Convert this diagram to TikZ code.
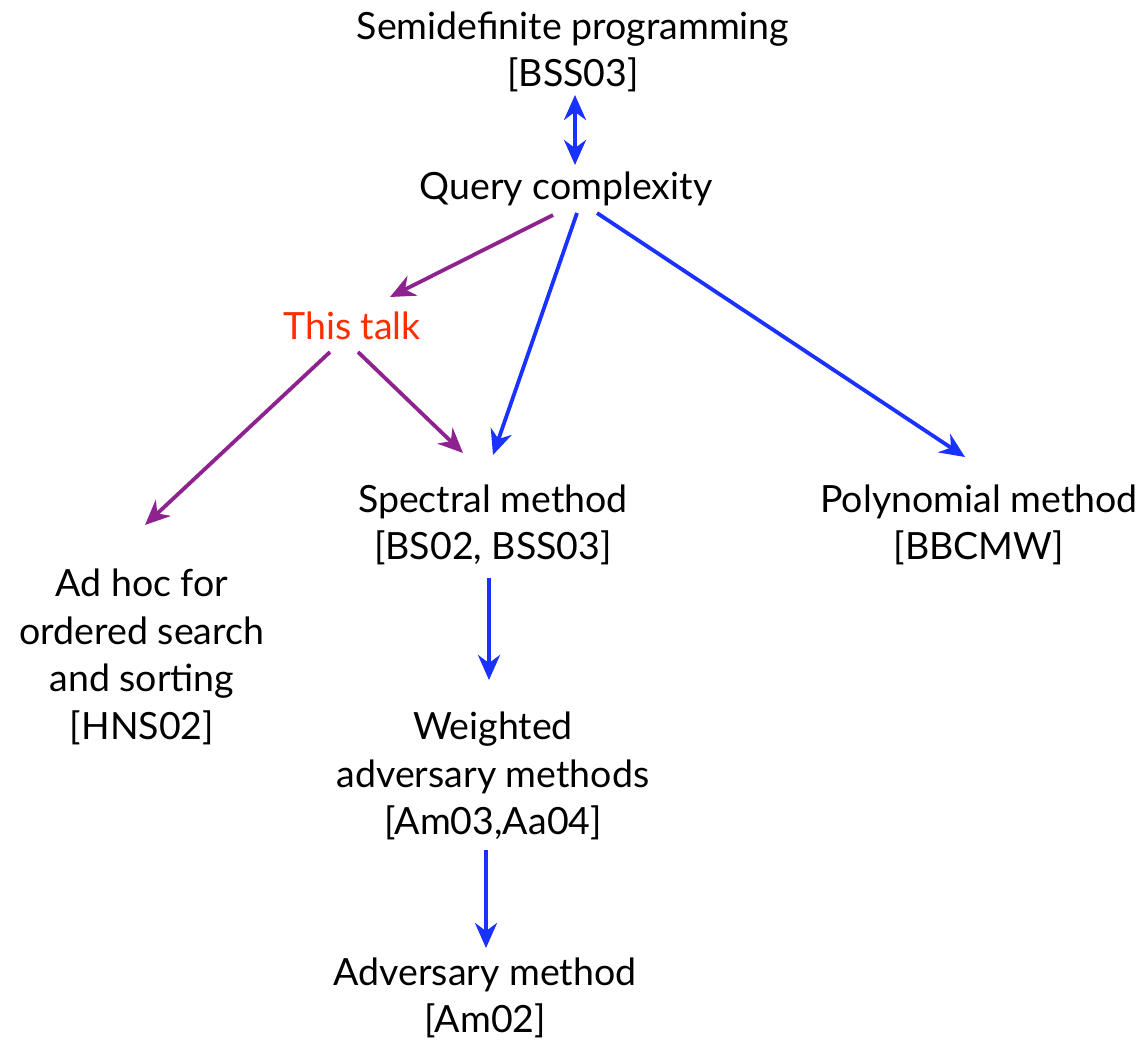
\documentclass[tikz,border=0pt]{standalone}
\usepackage{fontspec}
\setmainfont{Lato}
\usetikzlibrary{arrows.meta}
\definecolor{cblue}{RGB}{25,50,255}
\definecolor{cpurple}{RGB}{142,35,144}
\definecolor{cred}{RGB}{255,45,0}
\tikzset{
  lbl/.style={inner sep=0pt, align=center, font=\fontsize{37.5}{47.5}\selectfont},
  bluearr/.style={draw=cblue, line width=3.8pt, -{Stealth[length=25pt,width=22pt]}},
  purparr/.style={draw=cpurple, line width=3.8pt, -{Stealth[length=25pt,width=22pt]}},
}
\begin{document}
\begin{tikzpicture}[x=1pt,y=-1pt]
\useasboundingbox (0,0) rectangle (1144,1044);
\node[lbl] (sdp) at (573,52) {Semidefinite programming\\{}[BSS03]};
\node[lbl] (q) at (566,189) {Query complexity};
\node[lbl, text=cred] (t) at (352,326) {This talk};
\node[lbl] (s) at (493,525) {Spectral method\\{}[BS02, BSS03]};
\node[lbl] (p) at (979,525) {Polynomial method\\{}[BBCMW]};
\node[lbl] (a) at (142,657) {Ad hoc for\\ordered search\\and sorting\\{}[HNS02]};
\node[lbl] (w) at (493,776) {Weighted\\adversary methods\\{}[Am03,Aa04]};
\node[lbl] (adv) at (485,998) {Adversary method\\{}[Am02]};

\draw[bluearr, {Stealth[length=25pt,width=22pt]}-{Stealth[length=25pt,width=22pt]}]
  ([shift={(2,43)}]sdp.center) -- ([shift={(9,-24)}]q.center);
\draw[purparr] ([shift={(-13,26)}]q.center) -- ([shift={(38,-29)}]t.center);
\draw[bluearr] ([shift={(11,24)}]q.center) -- ([shift={(0,-70)}]s.center);
\draw[bluearr] ([shift={(31,24)}]q.center) -- ([shift={(-14,-68)}]p.center);
\draw[purparr] ([shift={(6,26)}]t.center) -- ([shift={(-30,-72)}]s.center);
\draw[purparr] ([shift={(-22,26)}]t.center) -- ([shift={(3,-132)}]a.center);
\draw[bluearr] ([shift={(-4,53)}]s.center) -- ([shift={(-4,-96)}]w.center);
\draw[bluearr] ([shift={(-7,74)}]w.center) -- ([shift={(1,-50)}]adv.center);
\end{tikzpicture}
\end{document}
